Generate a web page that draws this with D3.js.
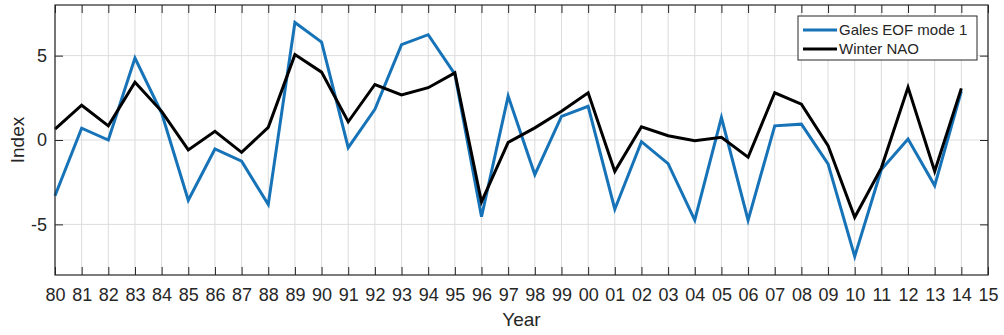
<!DOCTYPE html>
<html>
<head>
<meta charset="utf-8">
<script src="https://cdn.jsdelivr.net/npm/d3@7"></script>
<style>
  html, body { margin: 0; padding: 0; background: #fff; }
  svg { display: block; font-family: "Liberation Sans", Arial, Helvetica, sans-serif; }
</style>
</head>
<body>
<svg id="chart" width="1004" height="335"></svg>
<script>
const years = d3.range(1980, 2015);
const xTickYears = d3.range(1980, 2016);
const xTickLabels = ["80","81","82","83","84","85","86","87","88","89","90","91","92","93","94","95","96","97","98","99","00","01","02","03","04","05","06","07","08","09","10","11","12","13","14","15"];
const yTicks = [-5, 0, 5];
const galesEOF = [-3.3, 0.7, 0.0, 4.86, 1.6, -3.57, -0.53, -1.25, -3.82, 6.96, 5.8, -0.45, 1.82, 5.65, 6.24, 3.9, -4.55, 2.6, -2.05, 1.4, 2.0, -4.1, -0.1, -1.4, -4.75, 1.33, -4.75, 0.84, 0.94, -1.41, -6.9, -1.75, 0.06, -2.7, 2.9];
const winterNAO = [0.65, 2.06, 0.84, 3.43, 1.7, -0.59, 0.51, -0.73, 0.75, 5.06, 4.02, 1.08, 3.29, 2.67, 3.1, 3.98, -3.67, -0.14, 0.72, 1.7, 2.8, -1.86, 0.78, 0.25, -0.04, 0.16, -1.02, 2.8, 2.12, -0.33, -4.58, -1.65, 3.12, -1.85, 3.06];
const seriesNames = ["Gales EOF mode 1", "Winter NAO"];
const seriesColors = ["#1673b8", "#000000"];

const svg = d3.select("#chart");
const m = { left: 55, right: 988, top: 5, bottom: 275 };
const x = d3.scaleLinear().domain([1980, 2015]).range([m.left, m.right]);
const y = d3.scaleLinear().domain([-8, 8]).range([m.bottom, m.top]);
const axisColor = "#262626";

// grid
const grid = svg.append("g");
grid.selectAll("line.vx").data(xTickYears).join("line")
  .attr("x1", d => x(d)).attr("x2", d => x(d))
  .attr("y1", m.top).attr("y2", m.bottom)
  .attr("stroke", "#dcdcdc").attr("stroke-width", 1);
grid.selectAll("line.hy").data(yTicks).join("line")
  .attr("x1", m.left).attr("x2", m.right)
  .attr("y1", d => y(d)).attr("y2", d => y(d))
  .attr("stroke", "#dcdcdc").attr("stroke-width", 1);

// series lines
const line = d3.line().x((d, i) => x(years[i])).y(d => y(d));
[galesEOF, winterNAO].forEach((s, k) => {
  svg.append("path").datum(s)
    .attr("d", line)
    .attr("fill", "none")
    .attr("stroke", seriesColors[k])
    .attr("stroke-width", 3)
    .attr("stroke-linejoin", "miter");
});

// axes (ticks inward)
const fmt = (d) => xTickLabels[xTickYears.indexOf(d)];
const xAxisB = d3.axisBottom(x).tickValues(xTickYears).tickFormat(fmt).tickSizeInner(-8).tickSizeOuter(0).tickPadding(13);
const xAxisT = d3.axisTop(x).tickValues(xTickYears).tickFormat("").tickSizeInner(-8).tickSizeOuter(0);
const yAxisL = d3.axisLeft(y).tickValues(yTicks).tickSizeInner(-8).tickSizeOuter(0).tickPadding(8);
const yAxisR = d3.axisRight(y).tickValues(yTicks).tickFormat("").tickSizeInner(-8).tickSizeOuter(0);

function styleAxis(g) {
  g.select(".domain").remove();
  g.selectAll("line").attr("stroke", axisColor).attr("stroke-width", 1);
  g.selectAll("text").attr("fill", axisColor).attr("font-size", 18)
    .attr("font-family", '"Liberation Sans", Arial, sans-serif');
}
svg.append("g").attr("transform", `translate(0,${m.bottom})`).call(xAxisB).call(styleAxis);
svg.append("g").attr("transform", `translate(0,${m.top})`).call(xAxisT).call(styleAxis);
svg.append("g").attr("transform", `translate(${m.left},0)`).call(yAxisL).call(styleAxis)
  .selectAll("text").text(d => d < 0 ? "-" + Math.abs(d) : d);
svg.append("g").attr("transform", `translate(${m.right},0)`).call(yAxisR).call(styleAxis);

// box
svg.append("rect")
  .attr("x", m.left).attr("y", m.top)
  .attr("width", m.right - m.left).attr("height", m.bottom - m.top)
  .attr("fill", "none").attr("stroke", axisColor).attr("stroke-width", 1.2);

// axis titles
svg.append("text").attr("x", (m.left + m.right) / 2).attr("y", 326)
  .attr("text-anchor", "middle").attr("font-size", 19).attr("fill", axisColor).text("Year");
svg.append("text").attr("transform", `translate(24,${(m.top + m.bottom) / 2}) rotate(-90)`)
  .attr("text-anchor", "middle").attr("font-size", 19).attr("fill", axisColor).text("Index");

// legend
const lg = svg.append("g");
lg.append("rect").attr("x", 798).attr("y", 16).attr("width", 179).attr("height", 44)
  .attr("fill", "#fff").attr("stroke", axisColor).attr("stroke-width", 1);
seriesNames.forEach((name, k) => {
  const yy = 30 + k * 19;
  lg.append("line").attr("x1", 803).attr("x2", 837).attr("y1", yy).attr("y2", yy)
    .attr("stroke", seriesColors[k]).attr("stroke-width", 3);
  lg.append("text").attr("x", 839).attr("y", yy).attr("dy", "0.35em")
    .attr("font-size", 15).attr("fill", axisColor).text(name);
});
</script>
</body>
</html>
